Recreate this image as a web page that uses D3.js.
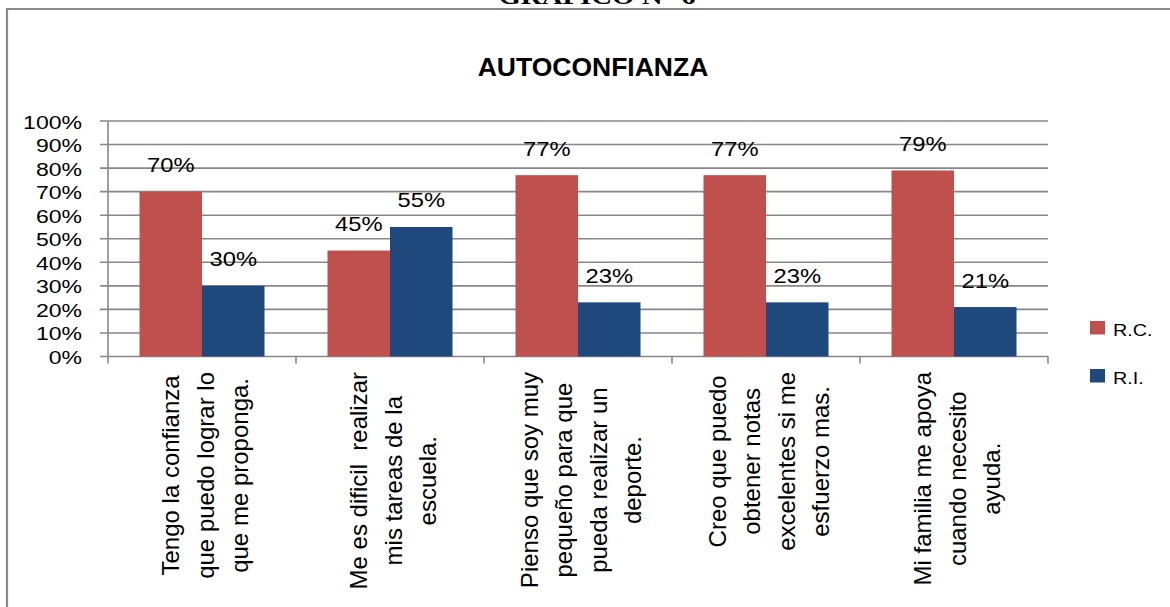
<!DOCTYPE html>
<html><head><meta charset="utf-8">
<script src="https://cdn.jsdelivr.net/npm/d3@7"></script>
<style>body{margin:0;background:#fff}svg{display:block}text{white-space:pre}</style>
</head><body>
<svg id="chart" width="1170" height="607"></svg>
<script>
const title = "AUTOCONFIANZA";
const pageHeading = "GRÁFICO N° 6";
const categories = [
  ["Tengo la confianza", "que puedo lograr lo", "que me proponga."],
  ["Me es dificil  realizar", "mis tareas de la", "escuela."],
  ["Pienso que soy muy", "pequeño para que", "pueda realizar un", "deporte."],
  ["Creo que puedo", "obtener notas", "excelentes si me", "esfuerzo mas."],
  ["Mi familia me apoya", "cuando necesito", "ayuda."]
];
const seriesNames = ["R.C.", "R.I."];
const rcValues = [0.70, 0.45, 0.77, 0.77, 0.79];
const riValues = [0.30, 0.55, 0.23, 0.23, 0.21];
const yTicks = [0, 0.1, 0.2, 0.3, 0.4, 0.5, 0.6, 0.7, 0.8, 0.9, 1.0];
const colors = ["#C0504D", "#1F497D"];

const svg = d3.select("#chart");
const FONT = "'Liberation Sans', Arial, sans-serif";
const SX = 1.2;
const gridColor = "#878787";

// outer frame
svg.append("path").attr("d", "M7,607 L7,9 L1170,9")
  .attr("fill", "none").attr("stroke", "#8a8a8a").attr("stroke-width", 2.2);

// page heading (cut off at the top, as in the source)
svg.append("text").attr("transform", "translate(597,4) scale(1.2,1)")
  .attr("text-anchor", "middle").attr("font-family", "'Liberation Serif', 'Times New Roman', serif")
  .attr("font-weight", "bold").attr("font-size", 24).text(pageHeading);

// title
svg.append("text").attr("x", 593).attr("y", 76).attr("text-anchor", "middle")
  .attr("font-family", FONT).attr("font-weight", "bold").attr("font-size", 26.5).text(title);

const x0 = d3.scaleBand().domain(d3.range(categories.length)).range([108, 1048])
  .paddingInner(0.335).paddingOuter(0.1675);
const x1 = d3.scaleBand().domain([0, 1]).range([0, x0.bandwidth()]);
const y = d3.scaleLinear().domain([0, 1]).range([356.5, 121]);

// gridlines + y ticks
svg.append("g").selectAll("line").data(yTicks).join("line")
  .attr("x1", 100).attr("x2", 1048).attr("y1", d => y(d)).attr("y2", d => y(d))
  .attr("stroke", gridColor).attr("stroke-width", 1.6);
// y axis line
svg.append("line").attr("x1", 108).attr("x2", 108).attr("y1", y(1)).attr("y2", y(0))
  .attr("stroke", gridColor).attr("stroke-width", 1.6);
// y tick labels
svg.append("g").selectAll("text").data(yTicks).join("text")
  .attr("transform", d => `translate(82,${y(d) + 7.5}) scale(${SX},1)`)
  .attr("text-anchor", "end").attr("font-family", FONT).attr("font-size", 19.2)
  .attr("fill", "#000").text(d => d3.format(".0%")(d));

// category ticks
const tickXs = d3.range(categories.length + 1).map(i => 108 + i * x0.step());
svg.append("g").selectAll("line").data(tickXs).join("line")
  .attr("x1", d => d).attr("x2", d => d).attr("y1", y(0)).attr("y2", y(0) + 7)
  .attr("stroke", gridColor).attr("stroke-width", 1.6);

// bars
const data = categories.map((c, i) => [rcValues[i], riValues[i]]);
const groups = svg.append("g").selectAll("g").data(data).join("g")
  .attr("transform", (d, i) => `translate(${x0(i)},0)`);
groups.selectAll("rect").data(d => d).join("rect")
  .attr("x", (d, j) => x1(j)).attr("width", x1.bandwidth())
  .attr("y", d => y(d)).attr("height", d => y(0) - y(d))
  .attr("fill", (d, j) => colors[j]);
groups.selectAll("text").data(d => d).join("text")
  .attr("transform", (d, j) => `translate(${x1(j) + x1.bandwidth() / 2},${y(d) - 19.5}) scale(${SX},1)`)
  .attr("text-anchor", "middle").attr("font-family", FONT).attr("font-size", 19.8)
  .text(d => d3.format(".0%")(d));

// category labels (rotated, centered lines)
const LH = 34.5;
categories.forEach((lines, i) => {
  const cx = x0(i) + x0.bandwidth() / 2;
  const g = svg.append("g");
  const texts = g.selectAll("text").data(lines).join("text")
    .attr("font-family", FONT).attr("font-size", 24).attr("text-anchor", "middle")
    .attr("xml:space", "preserve")
    .text(d => d);
  const maxLen = d3.max(texts.nodes(), n => n.getComputedTextLength());
  const cy = 372 + maxLen / 2;
  texts.attr("transform", (d, k) => {
    const bx = cx + 11.5 + (k - (lines.length - 1) / 2) * LH;
    return `translate(${bx},${cy}) rotate(-90)`;
  });
});

// legend
const leg = svg.append("g").selectAll("g").data(seriesNames).join("g")
  .attr("transform", (d, i) => `translate(1090,${321 + i * 48})`);
leg.append("rect").attr("width", 15).attr("height", 13.5).attr("fill", (d, i) => colors[i]);
leg.append("text").attr("transform", `translate(23,15) scale(${SX},1)`)
  .attr("font-family", FONT).attr("font-size", 16.5).text(d => d);
</script>
</body></html>
